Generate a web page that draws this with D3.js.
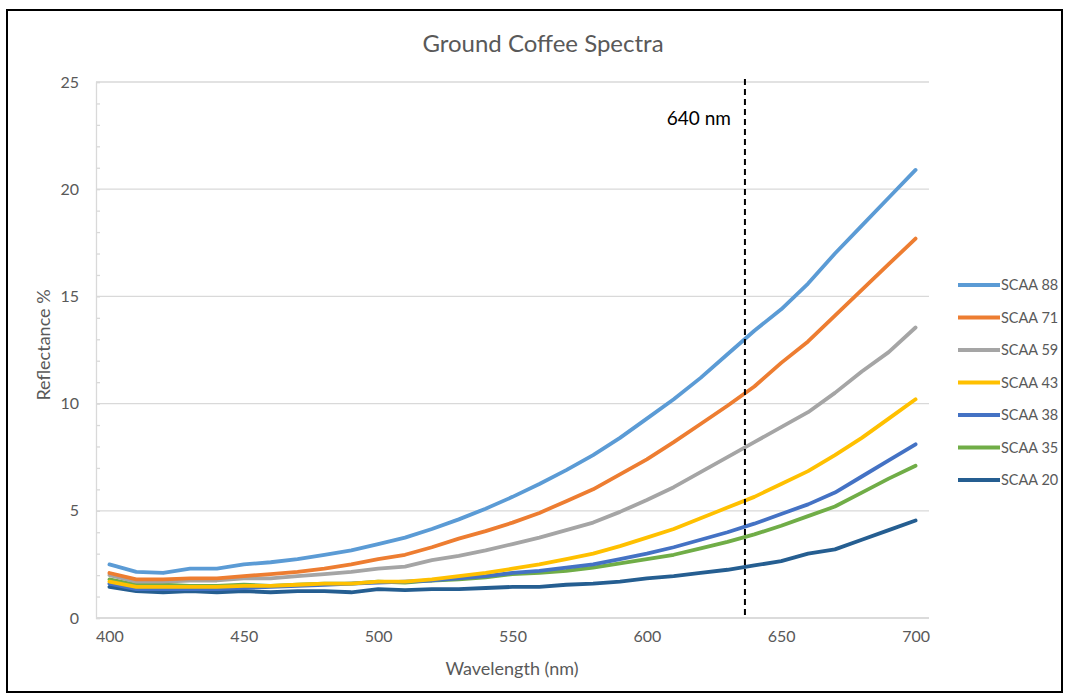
<!DOCTYPE html>
<html>
<head>
<meta charset="utf-8">
<script src="https://cdn.jsdelivr.net/npm/d3@7"></script>
<style>
  body { margin: 0; background: #fff; }
  svg { display: block; font-family: Lato, "Open Sans", sans-serif; }
</style>
</head>
<body>
<div id="chart"></div>
<script>
// wavelength categories (nm)
const wavelengths = [400, 410, 420, 430, 440, 450, 460, 470, 480, 490, 500,
  510, 520, 530, 540, 550, 560, 570, 580, 590, 600,
  610, 620, 630, 640, 650, 660, 670, 680, 690, 700]

const xTickLabels = [400, 450, 500, 550, 600, 650, 700]
const yTickLabels = [0, 5, 10, 15, 20, 25]

const seriesNames = ["SCAA 88", "SCAA 71", "SCAA 59", "SCAA 43", "SCAA 38", "SCAA 35", "SCAA 20"]

const scaa88 = [2.5, 2.15, 2.1, 2.3, 2.3, 2.5, 2.6, 2.75, 2.95, 3.15, 3.45,
  3.75, 4.15, 4.6, 5.1, 5.65, 6.25, 6.9, 7.6, 8.4, 9.3,
  10.2, 11.2, 12.3, 13.4, 14.4, 15.6, 17.0, 18.3, 19.6, 20.9]
const scaa71 = [2.1, 1.8, 1.8, 1.85, 1.85, 1.95, 2.05, 2.15, 2.3, 2.5, 2.75,
  2.95, 3.3, 3.7, 4.05, 4.45, 4.9, 5.45, 6.0, 6.7, 7.4,
  8.2, 9.05, 9.9, 10.8, 11.9, 12.9, 14.1, 15.3, 16.5, 17.7]
const scaa59 = [2.0, 1.7, 1.7, 1.75, 1.75, 1.85, 1.85, 1.95, 2.05, 2.15, 2.3,
  2.4, 2.7, 2.9, 3.15, 3.45, 3.75, 4.1, 4.45, 4.95, 5.5,
  6.1, 6.8, 7.5, 8.2, 8.9, 9.6, 10.5, 11.5, 12.4, 13.55]
const scaa43 = [1.7, 1.45, 1.45, 1.45, 1.45, 1.5, 1.5, 1.55, 1.6, 1.6, 1.7,
  1.7, 1.8, 1.95, 2.1, 2.3, 2.5, 2.75, 3.0, 3.35, 3.75,
  4.15, 4.65, 5.15, 5.65, 6.25, 6.85, 7.6, 8.4, 9.3, 10.2]
const scaa38 = [1.6, 1.35, 1.35, 1.35, 1.35, 1.4, 1.45, 1.5, 1.55, 1.6, 1.65,
  1.7, 1.75, 1.85, 1.95, 2.1, 2.2, 2.35, 2.5, 2.75, 3.0,
  3.3, 3.65, 4.0, 4.4, 4.85, 5.3, 5.85, 6.6, 7.35, 8.1]
const scaa35 = [1.8, 1.55, 1.55, 1.5, 1.5, 1.55, 1.5, 1.55, 1.6, 1.6, 1.7,
  1.65, 1.75, 1.8, 1.9, 2.05, 2.1, 2.2, 2.35, 2.55, 2.75,
  2.95, 3.25, 3.55, 3.9, 4.3, 4.75, 5.2, 5.85, 6.5, 7.1]
const scaa20 = [1.45, 1.25, 1.2, 1.25, 1.2, 1.25, 1.2, 1.25, 1.25, 1.2, 1.35,
  1.3, 1.35, 1.35, 1.4, 1.45, 1.45, 1.55, 1.6, 1.7, 1.85,
  1.95, 2.1, 2.25, 2.45, 2.65, 3.0, 3.2, 3.65, 4.1, 4.55]

const seriesValues = [scaa88, scaa71, scaa59, scaa43, scaa38, scaa35, scaa20]

// dashed marker, drawn where the reference places it
const markerNm = 636.5
const markerLabel = "640 nm"

const W = 1069, H = 698
const plot = { left: 96, right: 929, top: 82, bottom: 618 }

const color = d3.scaleOrdinal()
  .domain(seriesNames)
  .range(["#5B9BD5", "#ED7D31", "#A5A5A5", "#FFC000", "#4472C4", "#70AD47", "#255E91"])

const x = d3.scalePoint()
  .domain(wavelengths)
  .range([plot.left, plot.right])
  .padding(0.5)

// continuous version of the category axis, for the marker
const xLin = d3.scaleLinear()
  .domain([wavelengths[0], wavelengths[wavelengths.length - 1]])
  .range([x(wavelengths[0]), x(wavelengths[wavelengths.length - 1])])

const y = d3.scaleLinear()
  .domain([0, 25])
  .range([plot.bottom, plot.top])

const svg = d3.select("#chart")
  .append("svg")
  .attr("width", W)
  .attr("height", H)

// outer frame
svg.append("rect")
  .attr("x", 7).attr("y", 10)
  .attr("width", 1055).attr("height", 682)
  .attr("fill", "#fff")
  .attr("stroke", "#000")
  .attr("stroke-width", 2)

svg.append("text")
  .attr("x", 543).attr("y", 52)
  .attr("text-anchor", "middle")
  .attr("font-size", 24)
  .attr("fill", "#595959")
  .text("Ground Coffee Spectra")

// gridlines
svg.append("g")
  .selectAll("line")
  .data(yTickLabels)
  .join("line")
  .attr("x1", plot.left).attr("x2", plot.right)
  .attr("y1", d => y(d)).attr("y2", d => y(d))
  .attr("stroke", "#d9d9d9")
  .attr("stroke-width", 1.3)

// y axis: minor ticks inside, labels outside
const yMinor = svg.append("g")
  .attr("transform", `translate(${plot.left},0)`)
  .call(d3.axisRight(y).ticks(25).tickSize(4).tickFormat(""))
yMinor.select(".domain").attr("stroke", "#d9d9d9").attr("stroke-width", 1.3)
yMinor.selectAll(".tick line").attr("stroke", "#d9d9d9").attr("stroke-width", 1.3)

const yAxis = svg.append("g")
  .attr("transform", `translate(${plot.left},0)`)
  .call(d3.axisLeft(y).tickValues(yTickLabels).tickSize(0).tickPadding(17))
yAxis.select(".domain").remove()
yAxis.selectAll("text")
  .attr("font-size", 16)
  .attr("font-family", "Lato, sans-serif")
  .attr("fill", "#595959")

// x axis
const xAxis = svg.append("g")
  .attr("transform", `translate(0,${plot.bottom})`)
  .call(d3.axisBottom(x).tickValues(xTickLabels).tickSize(0).tickPadding(13))
xAxis.select(".domain").remove()
xAxis.selectAll("text")
  .attr("font-size", 16)
  .attr("font-family", "Lato, sans-serif")
  .attr("fill", "#595959")

svg.append("line")
  .attr("x1", plot.left).attr("x2", plot.right)
  .attr("y1", plot.bottom).attr("y2", plot.bottom)
  .attr("stroke", "#d9d9d9")
  .attr("stroke-width", 1.3)

svg.append("text")
  .attr("x", 512).attr("y", 675)
  .attr("text-anchor", "middle")
  .attr("font-size", 18)
  .attr("fill", "#595959")
  .text("Wavelength (nm)")

svg.append("text")
  .attr("transform", "translate(50,345) rotate(-90)")
  .attr("text-anchor", "middle")
  .attr("font-size", 18)
  .attr("fill", "#595959")
  .text("Reflectance %")

// series
const line = d3.line()
  .x((d, i) => x(wavelengths[i]))
  .y(d => y(d))

svg.append("g")
  .selectAll("path")
  .data(seriesValues.map((v, i) => ({ name: seriesNames[i], values: v })).reverse())
  .join("path")
  .attr("d", d => line(d.values))
  .attr("fill", "none")
  .attr("stroke", d => color(d.name))
  .attr("stroke-width", 3.8)
  .attr("stroke-linejoin", "round")
  .attr("stroke-linecap", "round")

// marker line
svg.append("line")
  .attr("x1", xLin(markerNm)).attr("x2", xLin(markerNm))
  .attr("y1", 79).attr("y2", plot.bottom)
  .attr("stroke", "#000")
  .attr("stroke-width", 2)
  .attr("stroke-dasharray", "6,4")

svg.append("text")
  .attr("x", xLin(markerNm) - 14).attr("y", 125)
  .attr("text-anchor", "end")
  .attr("font-size", 19)
  .attr("fill", "#000")
  .text(markerLabel)

// legend
const legend = svg.append("g")
  .selectAll("g")
  .data(seriesNames)
  .join("g")
  .attr("transform", (d, i) => `translate(958,${285 + i * 32.5})`)

legend.append("line")
  .attr("x1", 0).attr("x2", 42)
  .attr("stroke", d => color(d))
  .attr("stroke-width", 4)

legend.append("text")
  .attr("x", 43).attr("dy", "0.35em")
  .attr("font-size", 14.5)
  .attr("fill", "#595959")
  .text(d => d)
</script>
</body>
</html>
